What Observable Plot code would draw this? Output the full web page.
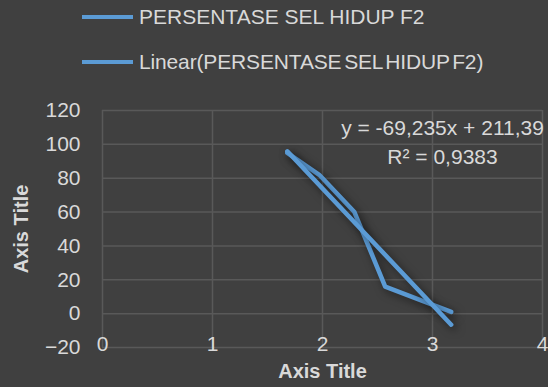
<!DOCTYPE html>
<html>
<head>
<meta charset="utf-8">
<script src="https://cdn.jsdelivr.net/npm/d3@7"></script>
<script src="https://cdn.jsdelivr.net/npm/@observablehq/plot@0.6"></script>
<style>
  html, body { margin: 0; padding: 0; background: #404040; }
  #wrap { position: relative; width: 548px; height: 387px; background: #404040; overflow: hidden;
          font-family: "Liberation Sans", Arial, sans-serif; color: #d9d9d9; }
  #chart { position: absolute; left: 0; top: 0; }
  .leg { position: absolute; left: 82px; display: flex; align-items: center; font-size: 21px; white-space: nowrap; }
  .sw { width: 51px; height: 4px; background: #5b9bd5; margin-right: 6px; }
</style>
</head>
<body>
<div id="wrap">
  <div id="chart"></div>
  <div class="leg" style="top:5px;"><div class="sw"></div><span id="leg1"></span></div>
  <div class="leg" style="top:50px;"><div class="sw"></div><span id="leg2" style="word-spacing:-3px; letter-spacing:-0.15px;"></span></div>
</div>
<script>
// Data
const xValues = [1.68, 1.97, 2.29, 2.57, 3.17];
const yValues = [95, 82, 60, 16, 1];
const xTicks = [0, 1, 2, 3, 4];
const yTicks = [-20, 0, 20, 40, 60, 80, 100, 120];
const seriesName = "PERSENTASE SEL HIDUP F2";
const trendName = "Linear(PERSENTASE SEL HIDUP F2)";
const equationText = "y = -69,235x + 211,39";
const r2Text = "R² = 0,9383";
const xTitle = "Axis Title";
const yTitle = "Axis Title";

const data = xValues.map((x, i) => ({x, y: yValues[i]}));

const blue = "#5b9bd5";
const grid = "#595959";
const textColor = "#d9d9d9";

document.getElementById("leg1").textContent = seriesName;
document.getElementById("leg2").textContent = trendName;

const chart = Plot.plot({
  width: 548,
  height: 387,
  marginTop: 110,
  marginBottom: 40,
  marginLeft: 102,
  marginRight: 6,
  style: {background: "transparent", color: textColor, fontFamily: "Liberation Sans, Arial, sans-serif", fontSize: "21px"},
  x: {domain: [0, 4]},
  y: {domain: [-20, 120]},
  marks: [
    Plot.gridX(xTicks, {stroke: grid, strokeOpacity: 1, strokeWidth: 1.5}),
    Plot.gridY(yTicks, {stroke: grid, strokeOpacity: 1, strokeWidth: 1.5}),
    Plot.axisX(xTicks, {tickSize: 0, tickPadding: 0, dy: -11, label: null, fill: textColor, fontSize: 21}),
    Plot.axisY(yTicks, {tickSize: 0, tickPadding: 22, label: null, fill: textColor, fontSize: 21}),
    Plot.line(data, {x: "x", y: "y", stroke: blue, strokeWidth: 4.5, strokeLinejoin: "round"}),
    Plot.linearRegressionY(data, {x: "x", y: "y", ci: 0, stroke: blue, strokeWidth: 4.5}),
    Plot.text([equationText + "\n" + r2Text], {frameAnchor: "top-right", dx: -100, dy: 4, textAnchor: "middle", lineAnchor: "top", lineHeight: 1.38, fill: textColor, fontSize: 21}),
    Plot.text([xTitle], {frameAnchor: "bottom", dy: 24, textAnchor: "middle", lineAnchor: "middle", fill: textColor, fontSize: 20, fontWeight: "bold"}),
    Plot.text([yTitle], {frameAnchor: "left", dx: -81, rotate: -90, textAnchor: "middle", lineAnchor: "middle", fill: textColor, fontSize: 20, fontWeight: "bold"})
  ]
});
d3.select(chart).selectAll('g[aria-label="line"], g[aria-label="linear-regression"]')
  .style("filter", "drop-shadow(3px 3px 4px rgba(0,0,0,0.55))");
document.getElementById("chart").appendChild(chart);
</script>
</body>
</html>
